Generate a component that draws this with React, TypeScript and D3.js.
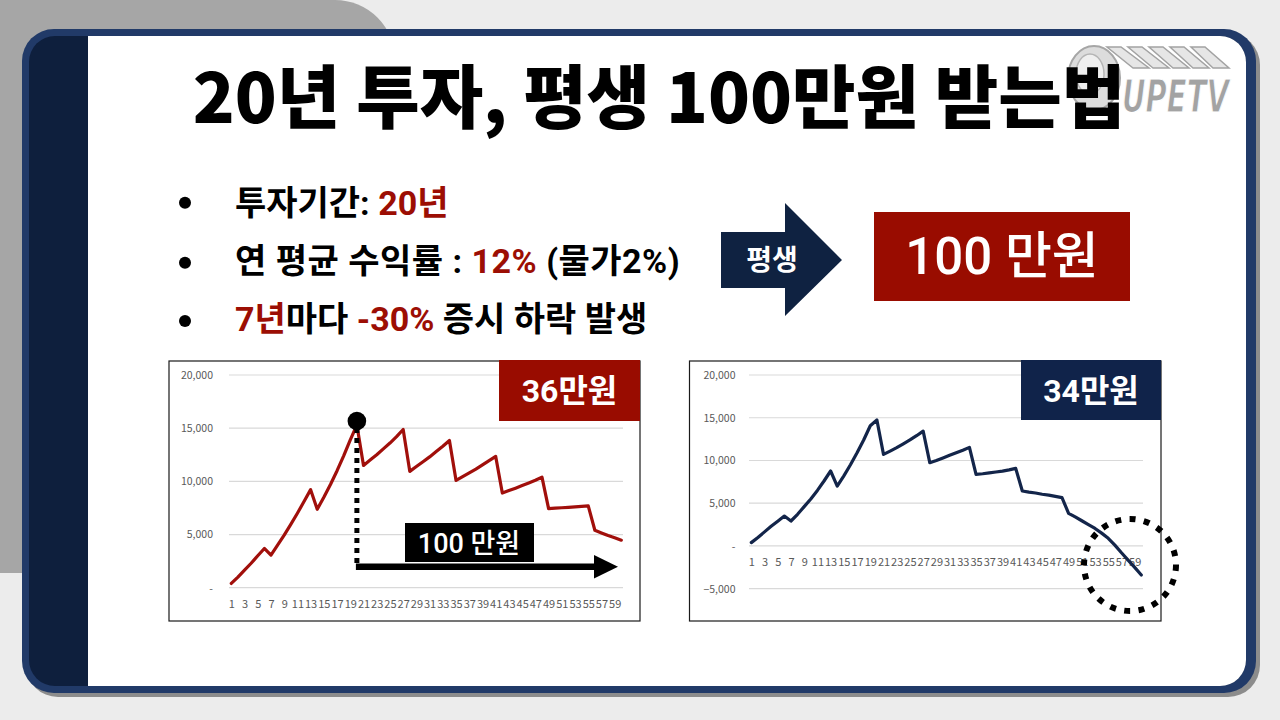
import React, { useEffect, useRef } from 'react';
import * as d3 from 'd3';

// categories: year 1..60
const years = d3.range(1, 61);
const tickYears = years.filter(d => d % 2 === 1);

// nominal balance (left chart, 만원)
const nominalValues = [
  400, 1000, 1650, 2300, 3000, 3690,
  3060, 4000, 4950, 5950, 7000, 8100, 9220,
  7375, 8500, 9700, 11000, 12400, 13900, 15300,
  11500, 12000, 12500, 13050, 13600, 14200, 14875,
  10940, 11400, 11850, 12300, 12800, 13300, 13840,
  10090, 10450, 10800, 11150, 11550, 11950, 12340,
  8900, 9130, 9360, 9600, 9850, 10100, 10400,
  7440, 7480, 7520, 7560, 7600, 7640, 7690,
  5400, 5150, 4900, 4700, 4470
];

// inflation adjusted balance (right chart)
const realValues = [
  390, 1000, 1650, 2300, 2900, 3500,
  2920, 3700, 4600, 5500, 6500, 7600, 8770,
  7010, 8200, 9500, 10900, 12400, 14060, 14730,
  10710, 11100, 11500, 11950, 12400, 12900, 13440,
  9740, 10000, 10300, 10600, 10900, 11200, 11530,
  8380, 8450, 8550, 8650, 8750, 8900, 9080,
  6430, 6300, 6200, 6050, 5950, 5800, 5650,
  3820, 3400, 2950, 2500, 2050, 1500, 900,
  100, -800, -1650, -2500, -3390
];

const leftTicks = [0, 5000, 10000, 15000, 20000];
const rightTicks = [-5000, 0, 5000, 10000, 15000, 20000];

const RED = '#9c0e04';
const NAVY = '#0f2241';
const FONT = "Roboto, 'Noto Sans CJK KR', sans-serif";
const KFONT = "'Noto Sans CJK KR', sans-serif";

interface ChartOpts {
  values: number[];
  ticks: number[];
  color: string;
  xRange: [number, number];
  gridRange: [number, number];
  yRange: [number, number];
  yLabelX: number;
  labelPad: number;
}

function drawChart(parent: d3.Selection<SVGGElement, unknown, null, undefined>, o: ChartOpts) {
  const g = parent.append('g');
  const x = d3.scalePoint<number>().domain(years).range(o.xRange);
  const y = d3.scaleLinear()
    .domain([d3.min(o.ticks)!, d3.max(o.ticks)!])
    .range(o.yRange);

  // gridlines
  g.append('g')
    .selectAll('line')
    .data(o.ticks)
    .join('line')
    .attr('x1', o.gridRange[0])
    .attr('x2', o.gridRange[1])
    .attr('y1', d => y(d))
    .attr('y2', d => y(d))
    .attr('stroke', '#d9d9d9')
    .attr('stroke-width', 1.2);

  // y axis labels
  const yAxis = g.append('g')
    .attr('transform', `translate(${o.yLabelX},0)`)
    .call(d3.axisLeft(y)
      .tickValues(o.ticks)
      .tickSize(0)
      .tickPadding(0)
      .tickFormat(d => (+d === 0 ? '-' : d3.format(',')(+d))));
  yAxis.select('.domain').remove();
  yAxis.selectAll('text')
    .attr('fill', '#595959')
    .style('font-family', KFONT)
    .style('font-size', '10.5px');

  // x axis labels (sit on the zero line)
  const xAxis = g.append('g')
    .attr('transform', `translate(0,${y(0)})`)
    .call(d3.axisBottom(x)
      .tickValues(tickYears)
      .tickSize(0)
      .tickPadding(o.labelPad));
  xAxis.select('.domain').remove();
  xAxis.selectAll('text')
    .attr('fill', '#595959')
    .style('font-family', KFONT)
    .style('font-size', '11px');

  const line = d3.line<number>()
    .x((_, i) => x(years[i])!)
    .y(d => y(d));

  g.append('path')
    .datum(o.values)
    .attr('d', line)
    .attr('fill', 'none')
    .attr('stroke', o.color)
    .attr('stroke-width', 3.2)
    .attr('stroke-linejoin', 'round')
    .attr('stroke-linecap', 'round');

  return { x, y };
}

const App = () => {
  const chartsRef = useRef<SVGGElement>(null);

  useEffect(() => {
    const layer = d3.select(chartsRef.current!);
    layer.selectAll('*').remove();

    // left chart: nominal
    const left = drawChart(layer, {
      values: nominalValues,
      ticks: leftTicks,
      color: '#a10f0b',
      xRange: [231.3, 621.3],
      gridRange: [229, 623],
      yRange: [587.7, 375],
      yLabelX: 213,
      labelPad: 13
    });

    // right chart: inflation adjusted
    drawChart(layer, {
      values: realValues,
      ticks: rightTicks,
      color: '#13254a',
      xRange: [751.3, 1141.3],
      gridRange: [749, 1143],
      yRange: [588.7, 375],
      yLabelX: 735.5,
      labelPad: 12
    });

    // annotations on left chart
    const ann = layer.append('g');
    const px = left.x(20)!;
    ann.append('line')
      .attr('x1', px).attr('x2', px)
      .attr('y1', 428).attr('y2', 566)
      .attr('stroke', '#000')
      .attr('stroke-width', 5)
      .attr('stroke-dasharray', '5,5');
    ann.append('line')
      .attr('x1', px - 1).attr('x2', 598)
      .attr('y1', 566.7).attr('y2', 566.7)
      .attr('stroke', '#000')
      .attr('stroke-width', 6.5);
    ann.append('path')
      .attr('d', 'M594,555 L618,566.7 L594,578.5 Z')
      .attr('fill', '#000');
    ann.append('circle')
      .attr('cx', px).attr('cy', 421)
      .attr('r', 9.3)
      .attr('fill', '#000');
    ann.append('rect')
      .attr('x', 405).attr('y', 523)
      .attr('width', 129).attr('height', 39)
      .attr('fill', '#000');
    ann.append('text')
      .attr('x', 469).attr('y', 553)
      .attr('text-anchor', 'middle')
      .attr('fill', '#fff')
      .style('font-family', FONT)
      .style('font-weight', 500)
      .style('font-size', '27px')
      .text('100 만원');

    // dotted circle on right chart
    ann.append('circle')
      .attr('cx', 1130).attr('cy', 565)
      .attr('r', 46)
      .attr('fill', 'none')
      .attr('stroke', '#000')
      .attr('stroke-width', 6)
      .attr('stroke-dasharray', '6,8.4');
  }, []);

  // logo extrusion stripes (one per letter)
  const stripes = [0, 1, 2, 3, 4];

  return (
    <div style={{ position: 'fixed', left: 0, top: 0, width: 1280, height: 720 }}>
      <svg width={1280} height={720} style={{ display: 'block' }}>
        {/* background */}
        <rect x={0} y={0} width={1280} height={720} fill="#ececec" />
        <path d="M0,0 H335 A60,60 0 0 1 395,60 V573 H0 Z" fill="#a6a6a6" />

        {/* frame */}
        <rect x={26} y={33} width={1234} height={664} rx={32} fill="#8c8c8c" />
        <rect x={22} y={29} width={1234} height={664} rx={32} fill="#213a68" />
        <rect x={29} y={36} width={1217} height={650} rx={26} fill="#0e1f3d" />
        <path d="M88,36 H1220 A26,26 0 0 1 1246,62 V660 A26,26 0 0 1 1220,686 H88 Z" fill="#fff" />

        {/* logo */}
        <g>
          <ellipse cx={1094} cy={78} rx={26} ry={32} fill="#dcdcdc" stroke="#a6a6a6" strokeWidth={2} />
          <ellipse cx={1090} cy={74} rx={14} ry={20} fill="#efefef" stroke="#b5b5b5" strokeWidth={1.5} />
          {stripes.map(i => (
            <path key={i}
              d={`M${1133 + i * 20},68 L${1107 + i * 21},47 L${1121 + i * 21},47 L${1149 + i * 20},68 Z`}
              fill="#e6e6e6" stroke="#a3a3a3" strokeWidth={1.5} />
          ))}
          <text transform="translate(1122,112) scale(0.66,1)" fill="#a3a3a3" stroke="#ffffff" strokeWidth={1.2}
            style={{ fontFamily: "'DejaVu Sans', sans-serif", fontWeight: 700, fontStyle: 'italic', fontSize: 44 }}>
            UPETV
          </text>
        </g>

        {/* title */}
        <text x={659} y={123} textAnchor="middle" fill="#000"
          style={{ fontFamily: KFONT, fontWeight: 900, fontSize: 69 }}>
          20년 투자, 평생 100만원 받는법
        </text>

        {/* bullets */}
        {[202.7, 262.7, 321].map(cy => (
          <circle key={cy} cx={185} cy={cy} r={6} fill="#000" />
        ))}
        <g style={{ fontFamily: FONT, fontWeight: 700, fontSize: 34 }}>
          <text x={235} y={215} fill="#000">
            투자기간: <tspan fill={RED}>20년</tspan>
          </text>
          <text x={235} y={273} fill="#000" letterSpacing={0.5}>
            연 평균 수익률 : <tspan fill={RED}>12%</tspan> (물가2%)
          </text>
          <text x={235} y={331} fill="#000">
            <tspan fill={RED}>7년</tspan>마다 <tspan fill={RED}>-30%</tspan> 증시 하락 발생
          </text>
        </g>

        {/* arrow + headline */}
        <path d="M721,232 H785 V203 L842,260 L785,316 V288 H721 Z" fill={NAVY} />
        <text x={772} y={270} textAnchor="middle" fill="#fff"
          style={{ fontFamily: KFONT, fontWeight: 700, fontSize: 28 }}>
          평생
        </text>
        <rect x={874} y={212} width={256} height={89} fill="#990c00" />
        <text x={1002} y={274} textAnchor="middle" fill="#fff"
          style={{ fontFamily: FONT, fontWeight: 500, fontSize: 51 }}>
          100 만원
        </text>

        {/* chart frames */}
        <rect x={169} y={361} width={471} height={260} fill="#fff" stroke="#1a1a1a" strokeWidth={1.2} />
        <rect x={689.5} y={361} width={471.5} height={260} fill="#fff" stroke="#1a1a1a" strokeWidth={1.2} />

        <g ref={chartsRef} />

        {/* value boxes */}
        <rect x={499} y={360} width={141} height={61} fill="#990c00" />
        <text x={569.5} y={402} textAnchor="middle" fill="#fff"
          style={{ fontFamily: FONT, fontWeight: 700, fontSize: 32 }}>
          36만원
        </text>
        <rect x={1021} y={360} width={140} height={60} fill="#10234a" />
        <text x={1091} y={402} textAnchor="middle" fill="#fff"
          style={{ fontFamily: FONT, fontWeight: 700, fontSize: 32 }}>
          34만원
        </text>
      </svg>
    </div>
  );
};

export default App;
